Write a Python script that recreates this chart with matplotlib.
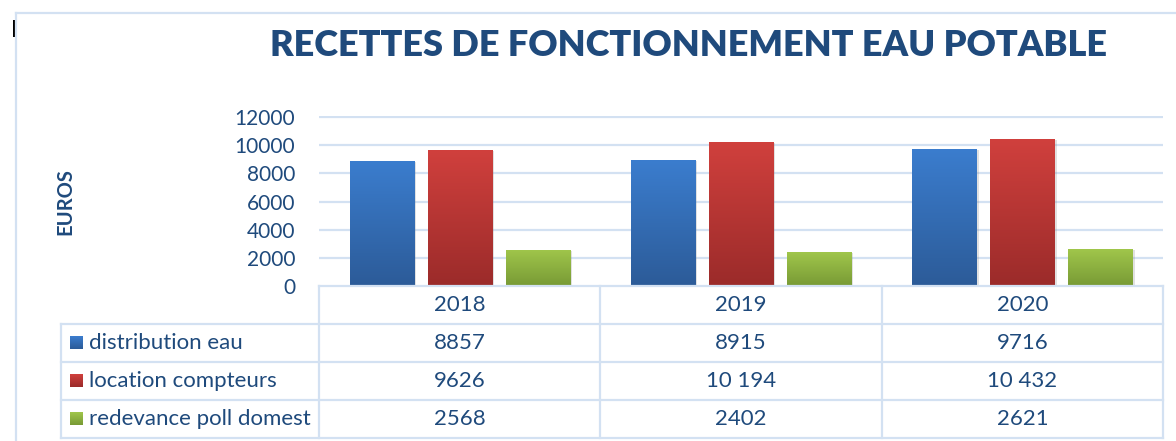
import matplotlib
matplotlib.use("Agg")
import matplotlib.pyplot as plt
import numpy as np
from matplotlib.patches import Rectangle
from matplotlib.colors import LinearSegmentedColormap
from matplotlib.lines import Line2D

years = ["2018", "2019", "2020"]
series_names = ["distribution eau", "location compteurs", "redevance poll domest"]
distribution_eau = [8857, 8915, 9716]
location_compteurs = [9626, 10194, 10432]
redevance_poll = [2568, 2402, 2621]
series_values = [distribution_eau, location_compteurs, redevance_poll]
yticks = [0, 2000, 4000, 6000, 8000, 10000, 12000]

grad_colors = [("#3B7DCE", "#2C5B98"), ("#D0403D", "#9B2B2A"), ("#A0C64B", "#789A35")]
text_col = "#1F4A7C"
line_col = "#D3E1F2"
FONT = "Lato"

W, H = 1176, 441
fig = plt.figure(figsize=(W / 100, H / 100), dpi=100)
fig.patch.set_facecolor("white")

def fx(px):
    return px / W
def fy(py):
    return 1 - py / H

# outer border
fig.add_artist(Line2D([fx(16), fx(16)], [fy(13), fy(441)], color=line_col, lw=1.6))
fig.add_artist(Line2D([fx(16), fx(1176)], [fy(13), fy(13)], color=line_col, lw=1.6))
# small cursor mark
fig.add_artist(Rectangle((fx(12.5), fy(37)), fx(2.5), 17 / H, color="black", lw=0))

# title
fig.text(fx(689), fy(45), "RECETTES DE FONCTIONNEMENT EAU POTABLE", ha="center", va="center",
         fontsize=26, fontweight="heavy", color=text_col, family=FONT)
fig.text(fx(65), fy(202), "EUROS", rotation=90, ha="center", va="center",
         fontsize=14.5, fontweight="bold", color=text_col, family=FONT)

# main axes
ax_left, ax_right = 319, 1163
ax_bottom, ax_top = 286, 115.6
ax = fig.add_axes([fx(ax_left), fy(ax_bottom), (ax_right - ax_left) / W, (ax_bottom - ax_top) / H])
ax.set_xlim(-0.5, 2.5)
ax.set_ylim(0, 12100)
for s in ax.spines.values():
    s.set_visible(False)
ax.set_yticks(yticks)
ax.set_yticklabels([str(t) for t in yticks], fontsize=15, color=text_col, family=FONT)
ax.tick_params(axis="y", length=0, pad=17)
ax.set_xticks([])
ax.set_facecolor("none")
for t in yticks[1:]:
    ax.axhline(t, color=line_col, lw=1.6, zorder=0)

bw = 64 / 281.3
step = 78 / 281.3
x = np.arange(len(years))
for i, (vals, (ctop, cbot)) in enumerate(zip(series_values, grad_colors)):
    cmap = LinearSegmentedColormap.from_list(f"g{i}", [cbot, ctop])
    pos = x + (i - 1) * step
    # shadows
    ax.bar(pos + 0.006, vals, width=bw + 0.004, bottom=-60, color="#888888", alpha=0.25, zorder=1, lw=0)
    bars = ax.bar(pos, vals, width=bw, color=ctop, zorder=2, lw=0)
    for b in bars:
        x0, y0 = b.get_x(), b.get_y()
        w, h = b.get_width(), b.get_height()
        grad = np.linspace(0, 1, 256).reshape(-1, 1)
        im = ax.imshow(grad, cmap=cmap, aspect="auto", origin="lower",
                       extent=[x0, x0 + w, y0, y0 + h], zorder=3)
        im.set_clip_path(b)
ax.set_xlim(-0.5, 2.5)
ax.set_ylim(0, 12100)

# table axes
tb_left, tb_right, tb_top, tb_bottom = 61, 1163, 286, 438
tax = fig.add_axes([fx(tb_left), fy(tb_bottom), (tb_right - tb_left) / W, (tb_bottom - tb_top) / H])
col_w = (ax_right - ax_left) / 3
leg_w = (ax_left - tb_left) / col_w
tax.set_xlim(-0.5 - leg_w, 2.5)
tax.set_ylim(4, 0)
tax.axis("off")
lw = 1.6
L = -0.5 - leg_w
tax.plot([-0.5, 2.5], [0, 0], color=line_col, lw=lw, clip_on=False)
for r in [1, 2, 3, 4]:
    tax.plot([L, 2.5], [r, r], color=line_col, lw=lw, clip_on=False)
tax.plot([L, L], [1, 4], color=line_col, lw=lw, clip_on=False)
for c in [-0.5, 0.5, 1.5, 2.5]:
    tax.plot([c, c], [0, 4], color=line_col, lw=lw, clip_on=False)

TFS = 16
for j, yr in enumerate(years):
    tax.text(j, 0.5, yr, ha="center", va="center", fontsize=TFS, color=text_col, family=FONT)

def fmt(v):
    s = str(v)
    if v >= 10000:
        s = f"{v:,}".replace(",", " ")
    return s

sq = 13 / col_w
for i, (name, vals, (ctop, cbot)) in enumerate(zip(series_names, series_values, grad_colors)):
    row = i + 1.5
    sx = L + 9 / col_w
    cmap = LinearSegmentedColormap.from_list(f"l{i}", [cbot, ctop])
    grad = np.linspace(0, 1, 64).reshape(-1, 1)
    tax.imshow(grad, cmap=cmap, aspect="auto", origin="lower",
               extent=[sx, sx + sq, row + 0.17, row - 0.17], zorder=3)
    tax.text(L + 28 / col_w, row, name, ha="left", va="center", fontsize=TFS, color=text_col, family=FONT)
    for j, v in enumerate(vals):
        tax.text(j, row, fmt(v), ha="center", va="center", fontsize=TFS, color=text_col, family=FONT)
tax.set_xlim(-0.5 - leg_w, 2.5)
tax.set_ylim(4, 0)

fig.savefig("out.png", dpi=100, facecolor="white")
